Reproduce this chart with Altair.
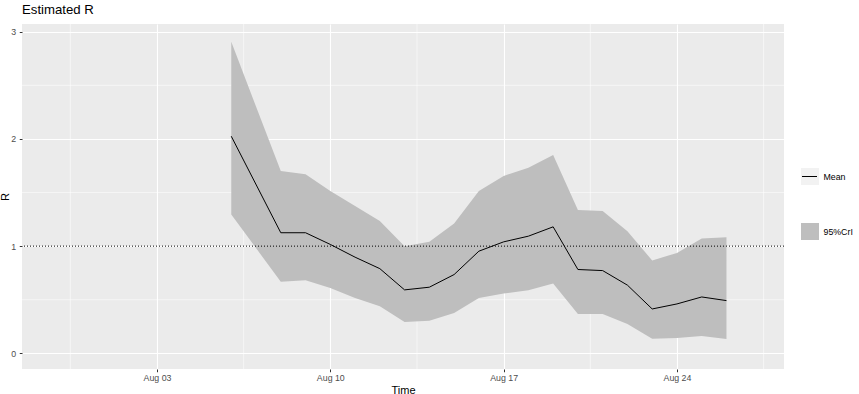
import altair as alt
import pandas as pd

# ---- data ----
dates = ["2020-08-06T00:00:00", "2020-08-08T00:00:00", "2020-08-09T00:00:00",
         "2020-08-10T00:00:00", "2020-08-11T00:00:00", "2020-08-12T00:00:00",
         "2020-08-13T00:00:00", "2020-08-14T00:00:00", "2020-08-15T00:00:00",
         "2020-08-16T00:00:00", "2020-08-17T00:00:00", "2020-08-18T00:00:00",
         "2020-08-19T00:00:00", "2020-08-20T00:00:00", "2020-08-21T00:00:00",
         "2020-08-22T00:00:00", "2020-08-23T00:00:00", "2020-08-24T00:00:00",
         "2020-08-25T00:00:00", "2020-08-26T00:00:00"]
mean_r = [2.025, 1.125, 1.125, 1.016, 0.897, 0.79, 0.592, 0.617, 0.735, 0.953,
          1.04, 1.093, 1.18, 0.782, 0.772, 0.636, 0.414, 0.461, 0.526, 0.492]
lower_r = [1.296, 0.667, 0.682, 0.61, 0.517, 0.44, 0.293, 0.305, 0.377, 0.517,
           0.558, 0.589, 0.651, 0.368, 0.368, 0.274, 0.137, 0.143, 0.162, 0.134]
upper_r = [2.906, 1.70, 1.67, 1.514, 1.374, 1.234, 1.0, 1.04, 1.21, 1.514,
           1.654, 1.732, 1.85, 1.336, 1.327, 1.14, 0.866, 0.937, 1.072, 1.084]

minor_x = ["2020-07-30T12:00:00", "2020-08-06T12:00:00", "2020-08-13T12:00:00",
           "2020-08-20T12:00:00", "2020-08-27T12:00:00"]
minor_y = [0.5, 1.5, 2.5]
major_y = [0, 1, 2, 3]
ref_level = [1]
legend_labels = ["Mean", "95%CrI"]

df = pd.DataFrame({"date": dates, "mean": mean_r, "lower": lower_r, "upper": upper_r})
df_minor_x = pd.DataFrame({"date": minor_x})
df_minor_y = pd.DataFrame({"v": minor_y})
df_ref = pd.DataFrame({"v": ref_level})

FONT = "Liberation Sans"
W, H = 762, 345

x_scale = alt.Scale(domain=[alt.DateTime(year=2020, month=7, date=28, hours=13, minutes=10),
                            alt.DateTime(year=2020, month=8, date=28, hours=7, minutes=45)])
y_scale = alt.Scale(domain=[-0.146, 3.072], nice=False, zero=False)

x_axis = alt.Axis(
    values=[alt.DateTime(year=2020, month=8, date=d) for d in (3, 10, 17, 24)],
    format="%b %d", title="Time", grid=True, gridColor="white", gridWidth=1.1,
    domain=False, tickColor="#333333", tickSize=2.75, labelColor="#4D4D4D",
    labelFontSize=8.8, labelFont=FONT, labelPadding=1.5, titleFont=FONT,
    titleFontSize=11, titleFontWeight="normal", titleColor="black",
    titleBaseline="alphabetic", titleY=24,
)
y_axis = alt.Axis(
    values=major_y, title="R", grid=True, gridColor="white", gridWidth=1.1,
    domain=False, tickColor="#333333", tickSize=2.75, labelColor="#4D4D4D",
    labelFontSize=8.8, labelFont=FONT, labelPadding=3.5, titleFont=FONT,
    titleFontSize=11, titleFontWeight="normal", titleColor="black",
    titleBaseline="alphabetic", titleX=-14, titleY=H / 2, titleAngle=270,
)

minor_v = alt.Chart(df_minor_x).mark_rule(color="white", strokeWidth=0.55).encode(
    x=alt.X("date:T", scale=x_scale, axis=x_axis))
minor_h = alt.Chart(df_minor_y).mark_rule(color="white", strokeWidth=0.55).encode(
    y=alt.Y("v:Q", scale=y_scale, axis=y_axis))

band = alt.Chart(df).mark_area(color="#BEBEBE", opacity=1).encode(
    x=alt.X("date:T", scale=x_scale, axis=x_axis),
    y=alt.Y("lower:Q", scale=y_scale, axis=y_axis),
    y2="upper:Q",
)
line = alt.Chart(df).mark_line(color="black", strokeWidth=1).encode(
    x=alt.X("date:T", scale=x_scale, axis=x_axis),
    y=alt.Y("mean:Q", scale=y_scale, axis=y_axis),
)
ref = alt.Chart(df_ref).mark_rule(color="black", strokeDash=[1, 2], strokeWidth=1).encode(
    y=alt.Y("v:Q", scale=y_scale, axis=y_axis))

# ---- manual legend (ggplot style, outside the panel on the right) ----
leg_df = pd.DataFrame({"label": legend_labels})
key_bg = alt.Chart(leg_df.iloc[[0]]).mark_rect(color="#F2F2F2").encode(
    x=alt.value(779), x2=alt.value(797), y=alt.value(144), y2=alt.value(161))
key_line = alt.Chart(leg_df.iloc[[0]]).mark_rule(color="black", strokeWidth=1).encode(
    x=alt.value(780), x2=alt.value(795), y=alt.value(152.5))
key_fill = alt.Chart(leg_df.iloc[[1]]).mark_rect(color="#BEBEBE").encode(
    x=alt.value(779), x2=alt.value(797), y=alt.value(199), y2=alt.value(216))
lab1 = alt.Chart(leg_df.iloc[[0]]).mark_text(
    align="left", baseline="middle", font=FONT, fontSize=8.8, color="black").encode(
    x=alt.value(801.5), y=alt.value(152.5), text="label:N")
lab2 = alt.Chart(leg_df.iloc[[1]]).mark_text(
    align="left", baseline="middle", font=FONT, fontSize=8.8, color="black").encode(
    x=alt.value(801.5), y=alt.value(207.5), text="label:N")

chart = alt.layer(minor_v, minor_h, band, line, ref, key_bg, key_line, key_fill, lab1, lab2).properties(
    width=W, height=H,
    title=alt.TitleParams("Estimated R", anchor="start", frame="group", font=FONT,
                          fontSize=13.2, fontWeight="normal", color="black",
                          baseline="alphabetic", offset=9, dy=12),
    autosize=alt.AutoSizeParams(type="none"),
    padding={"left": 22, "top": 24, "right": 75, "bottom": 25},
    background="white",
).configure_view(fill="#EBEBEB", stroke=None, clip=False)

chart.save("out.html", embed_options={"renderer": "svg", "actions": False})
